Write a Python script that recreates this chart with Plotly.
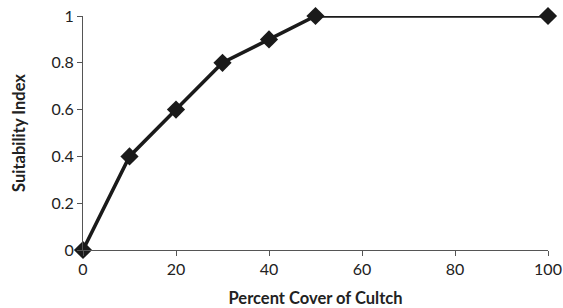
import plotly.graph_objects as go

percent_cover = [0, 10, 20, 30, 40, 50, 100]
suitability = [0, 0.4, 0.6, 0.8, 0.9, 1.0, 1.0]
x_ticks = [0, 20, 40, 60, 80, 100]
y_ticks = [0, 0.2, 0.4, 0.6, 0.8, 1]
y_tick_labels = ["0", "0.2", "0.4", "0.6", "0.8", "1"]

fig = go.Figure(go.Scatter(
    x=percent_cover, y=suitability, mode="lines+markers",
    line=dict(color="#1a1a1a", width=3.5),
    marker=dict(symbol="diamond", size=14, color="#1a1a1a"),
    cliponaxis=False, showlegend=False,
))

fig.update_layout(
    width=563, height=308,
    margin=dict(l=83, r=15, t=16, b=58, autoexpand=False),
    paper_bgcolor="white", plot_bgcolor="white",
    font=dict(family="Lato, Open Sans, sans-serif", size=16, color="#222"),
)
fig.update_xaxes(
    range=[0, 100], tickvals=x_ticks, showgrid=False, zeroline=False,
    showline=True, linecolor="#555", linewidth=1,
    ticks="outside", ticklen=5, tickcolor="#555",
    ticklabeloverflow="allow",
    title=dict(text="<b>Percent Cover of Cultch</b>", font=dict(size=16.5), standoff=20),
)
fig.update_yaxes(
    range=[0, 1], tickvals=y_ticks, ticktext=y_tick_labels, showgrid=False, zeroline=False,
    showline=True, linecolor="#555", linewidth=1,
    ticks="outside", ticklen=5, tickcolor="#555",
    ticklabeloverflow="allow",
    title=dict(text="<b>Suitability Index</b>", font=dict(size=16.5), standoff=21),
)

fig.write_html(
    "out.html",
    config={"displayModeBar": False},
    post_script="document.body.style.margin='0';document.body.style.overflow='hidden';",
)
